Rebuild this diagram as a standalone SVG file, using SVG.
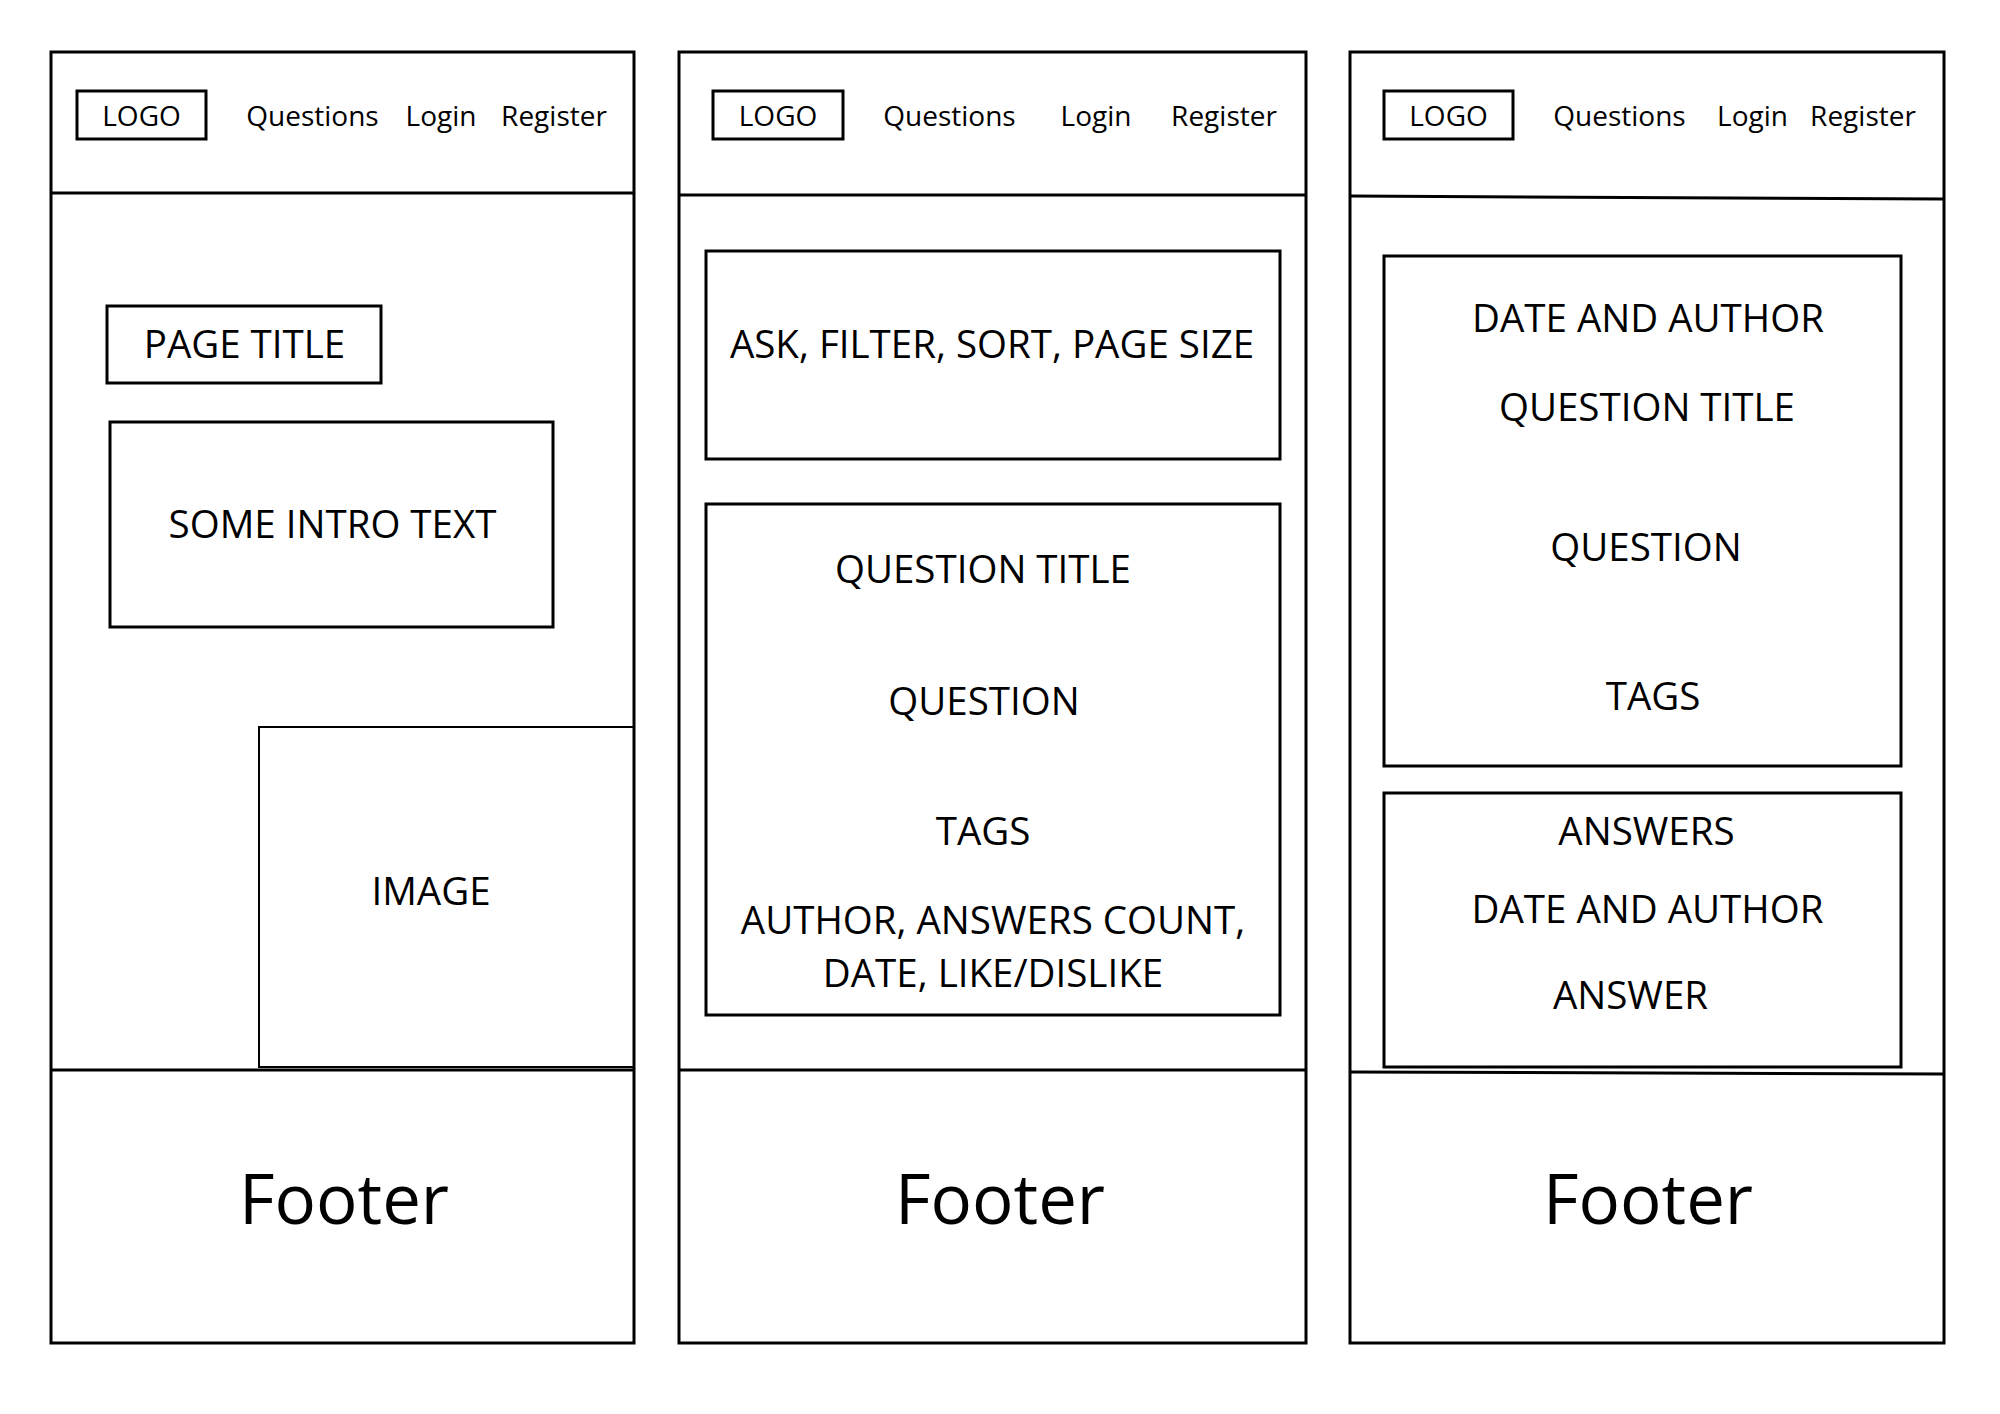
<svg xmlns="http://www.w3.org/2000/svg" width="2000" height="1414" viewBox="0 0 2000 1414">
<style>
.ln{fill:none;stroke:#000;stroke-width:3}
.thin{fill:none;stroke:#000;stroke-width:2}
text{font-family:"Open Sans","Noto Sans","DejaVu Sans",sans-serif;fill:#000;text-anchor:middle}
.nav{font-size:28px}
.body{font-size:38.5px}
.foot{font-size:69px}
</style>
<rect width="2000" height="1414" fill="#fff"/>
<g id="page-home">
<rect class="ln" x="51" y="52" width="583" height="1291"/>
<line class="ln" x1="51" y1="193" x2="634" y2="193"/>
<line class="ln" x1="51" y1="1070" x2="634" y2="1070"/>
<g id="home-logo"><rect class="ln" x="77" y="91" width="129" height="48"/><text class="nav" x="141.5" y="126">LOGO</text></g>
<text class="nav" x="312.5" y="126">Questions</text>
<text class="nav" x="441" y="126">Login</text>
<text class="nav" x="554" y="126">Register</text>
<g id="home-title"><rect class="ln" x="107" y="306" width="274" height="77"/><text class="body" x="244.5" y="358">PAGE TITLE</text></g>
<g id="home-intro"><rect class="ln" x="110" y="422" width="443" height="205"/><text class="body" x="332.5" y="538">SOME INTRO TEXT</text></g>
<g id="home-image"><rect class="thin" x="259" y="727" width="375" height="340"/><text class="body" x="431" y="905">IMAGE</text></g>
<text class="foot" x="344" y="1224">Footer</text>
</g>
<g id="page-questions">
<rect class="ln" x="679" y="52" width="627" height="1291"/>
<line class="ln" x1="679" y1="195" x2="1306" y2="195"/>
<line class="ln" x1="679" y1="1070" x2="1306" y2="1070"/>
<g id="q-logo"><rect class="ln" x="713" y="91" width="130" height="48"/><text class="nav" x="778" y="126">LOGO</text></g>
<text class="nav" x="949.5" y="126">Questions</text>
<text class="nav" x="1096" y="126">Login</text>
<text class="nav" x="1224" y="126">Register</text>
<g id="q-tools"><rect class="ln" x="706" y="251" width="574" height="208"/><text class="body" x="992" y="358">ASK, FILTER, SORT, PAGE SIZE</text></g>
<g id="q-item"><rect class="ln" x="706" y="504" width="574" height="511"/>
<text class="body" x="983" y="583">QUESTION TITLE</text>
<text class="body" x="984" y="715">QUESTION</text>
<text class="body" x="983" y="845">TAGS</text>
<text class="body" x="993" y="934">AUTHOR, ANSWERS COUNT,</text>
<text class="body" x="993" y="987">DATE, LIKE/DISLIKE</text></g>
<text class="foot" x="1000" y="1224">Footer</text>
</g>
<g id="page-question">
<rect class="ln" x="1350" y="52" width="594" height="1291"/>
<line class="ln" x1="1350" y1="196" x2="1944" y2="199"/>
<line class="ln" x1="1350" y1="1072" x2="1944" y2="1074"/>
<g id="qd-logo"><rect class="ln" x="1384" y="91" width="129" height="48"/><text class="nav" x="1448.5" y="126">LOGO</text></g>
<text class="nav" x="1619.5" y="126">Questions</text>
<text class="nav" x="1752.5" y="126">Login</text>
<text class="nav" x="1863" y="126">Register</text>
<g id="qd-question"><rect class="ln" x="1384" y="256" width="517" height="510"/>
<text class="body" x="1648" y="332">DATE AND AUTHOR</text>
<text class="body" x="1647" y="421">QUESTION TITLE</text>
<text class="body" x="1646" y="561">QUESTION</text>
<text class="body" x="1653" y="710">TAGS</text></g>
<g id="qd-answers"><rect class="ln" x="1384" y="793" width="517" height="274"/>
<text class="body" x="1646.5" y="845">ANSWERS</text>
<text class="body" x="1647.5" y="923">DATE AND AUTHOR</text>
<text class="body" x="1630.5" y="1009">ANSWER</text></g>
<text class="foot" x="1648" y="1224">Footer</text>
</g>
<g id="connectors"/>
</svg>
